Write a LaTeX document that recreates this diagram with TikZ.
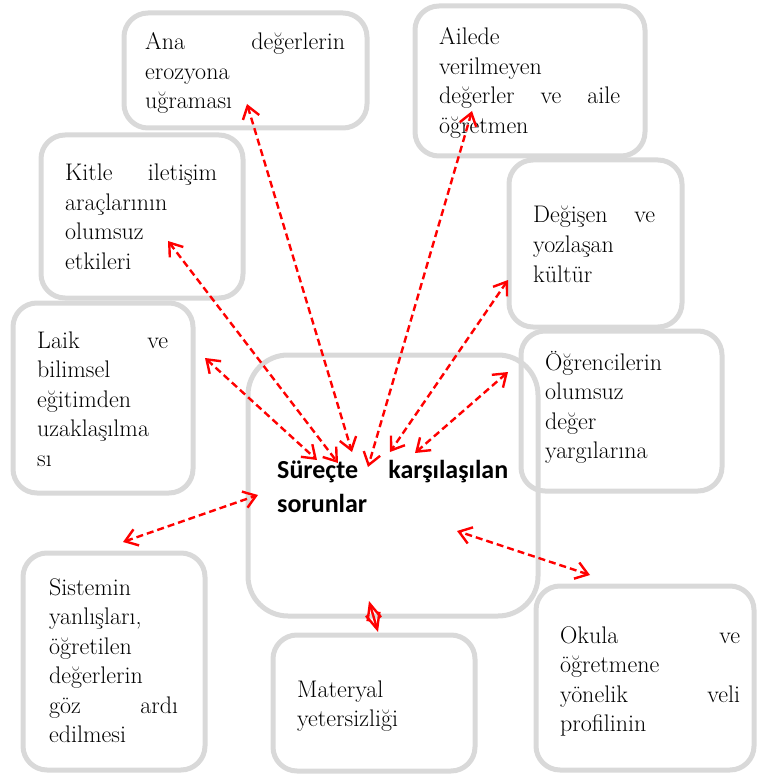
\documentclass[tikz,border=0pt]{standalone}
\usepackage{fontspec}
\setsansfont{Carlito}
\usetikzlibrary{arrows.meta}
\definecolor{boxgray}{HTML}{D9D9D9}
\tikzset{
  kutu/.style={draw=boxgray, line width=5pt, rounded corners=24pt, inner sep=0pt},
  yazi/.style={anchor=base west, inner sep=0pt, align=left, font=\fontsize{24}{29.5}\selectfont},
  ok/.style={red, line width=2.4pt, dash pattern=on 7pt off 4pt,
    {Straight Barb[length=12pt,width=17pt]}-{Straight Barb[length=12pt,width=17pt]}},
  kisaok/.style={red, line width=2.4pt,
    {Straight Barb[length=16pt,width=14pt]}-{Straight Barb[length=16pt,width=14pt]}}
}
\begin{document}
\begin{tikzpicture}[x=1pt, y=-1pt]
      \useasboundingbox (0,0) rectangle (757,775);

      \node[kutu, minimum width=243pt, minimum height=115pt] (ana) at (245.5,70.5) {};
      \node[kutu, minimum width=230pt, minimum height=150pt] (aile) at (530,81) {};
      \node[kutu, minimum width=202pt, minimum height=163pt] (kitle) at (142,216.5) {};
      \node[kutu, minimum width=173pt, minimum height=167pt] (degisen) at (595.5,243.5) {};
      \node[kutu, minimum width=180pt, minimum height=190pt] (laik) at (103,398) {};
      \node[kutu, minimum width=201pt, minimum height=160pt] (ogrenci) at (621.5,411) {};
      \node[kutu, rounded corners=40pt, minimum width=290pt, minimum height=261pt] (surec) at (393,485.5) {};
      \node[kutu, minimum width=182pt, minimum height=217pt] (sistem) at (114,661.5) {};
      \node[kutu, minimum width=202pt, minimum height=136pt] (materyal) at (374,703) {};
      \node[kutu, minimum width=218pt, minimum height=184pt] (okula) at (645,678) {};

      \node[yazi, text width=200pt] (ana-t) at (145,50) {Ana\hfill değerlerin\\erozyona\\uğraması};
      \node[yazi, text width=181pt] (aile-t) at (439,45) {Ailede\\verilmeyen\\değerler\hfill ve\hfill aile\\öğretmen};
      \node[yazi, text width=152pt] (kitle-t) at (65,181) {Kitle\hfill iletişim\\araçlarının\\olumsuz\\etkileri};
      \node[yazi, text width=122pt] (degisen-t) at (533,223) {Değişen\hfill ve\\yozlaşan\\kültür};
      \node[yazi, text width=131pt] (laik-t) at (37,348) {Laik\hfill ve\\bilimsel\\eğitimden\\uzaklaşılma\\sı};
      \node[yazi, text width=160pt] (ogrenci-t) at (545,370) {Öğrencilerin\\olumsuz\\değer\\yargılarına};
      \node[yazi, text width=231pt, font=\fontsize{26}{34}\selectfont\sffamily\bfseries] (surec-t) at (277,478) {Süreçte\hfill karşılaşılan\\sorunlar};
      \node[yazi, text width=129pt] (sistem-t) at (49,595) {Sistemin\\yanlışları,\\öğretilen\\değerlerin\\göz\hfill ardı\\edilmesi};
      \node[yazi, text width=160pt] (materyal-t) at (297,697) {Materyal\\yetersizliği};
      \node[yazi, text width=180pt] (okula-t) at (560,643) {Okula\hfill ve\\öğretmene\\yönelik\hfill veli\\profilinin};

      \coordinate (ana-u) at (247,104);      \coordinate (ana-s) at (352,452);
      \coordinate (aile-u) at (472,111);     \coordinate (aile-s) at (368,467);
      \coordinate (kitle-u) at (168,241);    \coordinate (kitle-s) at (338,463);
      \coordinate (degisen-u) at (508,280);  \coordinate (degisen-s) at (390,452);
      \coordinate (laik-u) at (205,358);     \coordinate (laik-s) at (317,460);
      \coordinate (ogrenci-u) at (508,372);  \coordinate (ogrenci-s) at (415,453);
      \coordinate (sistem-u) at (123,542);   \coordinate (sistem-s) at (258,495);
      \coordinate (okula-u) at (590,575);    \coordinate (okula-s) at (457,531);
      \coordinate (materyal-u) at (378,632); \coordinate (materyal-s) at (369,601);

      \draw[ok] (ana-u) -- (ana-s);
      \draw[ok] (aile-u) -- (aile-s);
      \draw[ok] (kitle-u) -- (kitle-s);
      \draw[ok] (degisen-u) -- (degisen-s);
      \draw[ok] (laik-u) -- (laik-s);
      \draw[ok] (ogrenci-u) -- (ogrenci-s);
      \draw[ok] (sistem-u) -- (sistem-s);
      \draw[ok] (okula-u) -- (okula-s);
      \draw[kisaok] (materyal-u) -- (materyal-s);
\end{tikzpicture}
\end{document}
